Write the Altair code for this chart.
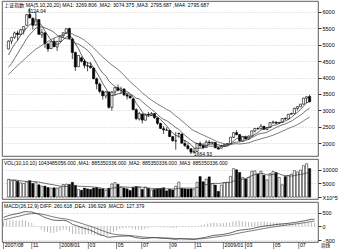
import altair as alt
import pandas as pd

# ---------------- data (weekly) ----------------
warm_close = [3323, 3445, 3585, 3742, 3950, 4030, 4181, 4000, 4149, 4252,
              4091, 3820, 3781, 3915, 4058, 4345, 4560, 4750, 4656]

opens = [4870, 5110, 5225, 5355, 5310, 5450, 5590, 5920, 5800, 5600,
         5760, 5300, 5360, 5020, 4880, 5100, 4930, 5100, 5270, 5360,
         5490, 5170, 4760, 4330, 4600, 4500, 4360, 4350, 4290, 3960,
         3800, 3580, 3440, 3560, 3090, 3560, 3690, 3610, 3650, 3470,
         3430, 3350, 3020, 2740, 2890, 2700, 2880, 2860, 2900, 2770,
         2600, 2440, 2400, 2390, 2200, 2070, 2290, 2280, 1990, 1920,
         1830, 1720, 1750, 1990, 1930, 1870, 2030, 2010, 2020, 1860,
         1850, 1900, 1950, 1990, 2180, 2320, 2260, 2070, 2190, 2130,
         2220, 2370, 2450, 2440, 2510, 2420, 2480, 2620, 2640, 2610,
         2630, 2750, 2740, 2880, 2900, 3060, 3110, 3190, 3370, 3420]
highs = [5130, 5240, 5400, 5430, 5470, 5560, 5930, 6124.04, 5830, 6005,
         5780, 5470, 5380, 5060, 5100, 5200, 5110, 5280, 5380, 5500,
         5520, 5200, 4790, 4680, 4640, 4560, 4470, 4470, 4300, 4000,
         3850, 3610, 3580, 3570, 3590, 3700, 3790, 3720, 3670, 3530,
         3470, 3370, 3060, 2950, 2900, 2900, 2950, 2950, 2920, 2780,
         2620, 2520, 2480, 2400, 2210, 2340, 2330, 2290, 2100, 2000,
         1840, 1850, 2000, 2050, 2000, 2090, 2100, 2040, 2030, 1880,
         1950, 1960, 2000, 2190, 2330, 2400, 2270, 2200, 2230, 2230,
         2380, 2450, 2480, 2580, 2530, 2480, 2630, 2690, 2660, 2650,
         2760, 2790, 2890, 2930, 3080, 3120, 3190, 3380, 3420, 3478]
lows = [4860, 5020, 5180, 5120, 5290, 5310, 5580, 5800, 5460, 5580,
        5300, 5200, 4900, 4780, 4870, 4920, 4810, 5080, 5200, 5330,
        5170, 4560, 4200, 4320, 4460, 4280, 4190, 4270, 3950, 3640,
        3520, 3330, 3360, 3050, 2990, 3450, 3580, 3500, 3440, 3330,
        3360, 3000, 2700, 2690, 2600, 2690, 2800, 2830, 2740, 2560,
        2430, 2280, 2380, 2190, 2040, 1802, 2170, 1990, 1880, 1800,
        1664.93, 1680, 1730, 1870, 1820, 1860, 1960, 1970, 1850, 1814,
        1840, 1880, 1930, 1980, 2160, 2240, 2040, 2040, 2110, 2100,
        2210, 2330, 2400, 2430, 2400, 2390, 2470, 2590, 2590, 2590,
        2620, 2700, 2730, 2860, 2900, 3000, 3110, 3180, 3220, 3250]
closes = [5107, 5218, 5356, 5313, 5454, 5552, 5913, 5818, 5589, 5777,
          5316, 5368, 5032, 4871, 5091, 4941, 5101, 5262, 5361, 5485,
          5181, 4762, 4320, 4672, 4497, 4370, 4348, 4300, 3962, 3804,
          3580, 3446, 3564, 3094, 3557, 3693, 3613, 3654, 3473, 3433,
          3379, 3024, 2748, 2901, 2704, 2880, 2861, 2904, 2775, 2605,
          2450, 2406, 2397, 2202, 2079, 2075, 2293, 2000, 1930, 1838,
          1728, 1747, 1994, 1930, 1871, 2035, 2011, 2031, 1862, 1820,
          1904, 1954, 1990, 2182, 2320, 2261, 2082, 2194, 2128, 2218,
          2374, 2448, 2445, 2519, 2428, 2477, 2625, 2645, 2610, 2632,
          2749, 2743, 2880, 2904, 3060, 3113, 3189, 3372, 3412, 3260]
volumes = [6500, 6000, 6200, 5800, 5200, 5000, 5600, 6000, 5000, 5300,
           4500, 4000, 4000, 3500, 3300, 3400, 3300, 3600, 4600, 4700,
           4600, 5400, 4300, 2800, 2500, 3300, 3000, 2800, 3300, 3500,
           3000, 3000, 2400, 3200, 4800, 5300, 4700, 3700, 3300, 3000,
           2400, 3500, 3800, 3500, 2800, 3700, 3200, 2600, 2800, 3000,
           3100, 3400, 2300, 2900, 2600, 4000, 5500, 3200, 3000, 2900,
           3000, 2700, 5400, 7500, 5600, 6600, 7400, 5000, 4400, 2100,
           4400, 5200, 5400, 7600, 10400, 10000, 9000, 7200, 6600, 7200,
           9500, 9600, 8400, 9500, 8000, 6300, 8600, 9400, 9000, 7200,
           4500, 7500, 7900, 8400, 9700, 9200, 9900, 11500, 12200, 10435]

tick_idx = [0, 9, 18, 27, 36, 44, 53, 61, 70, 77, 86, 94]
tick_lab = ["2007/08", "11", "2008/01", "03", "05", "07", "09", "11",
            "2009/01", "03", "05", "07"]
main_ticks = [2000, 2500, 3000, 3500, 4000, 4500, 5000, 5500, 6000]
vol_ticks = [0, 5000, 10000]
macd_ticks = [-500, 0, 500]

main_title = "上证指数 MA(5,10,20,20) MA1: 3269.806 ,MA2: 3074.375 ,MA3: 2795.687 ,MA4: 2795.687"
vol_title = "VOL(10,10,10) 1043485056.000 ,MA1: 885350336.000 ,MA2: 885350336.000 ,MA3: 885350336.000"
macd_title = "MACD(26,12,9) DIFF: 260.618 ,DEA: 196.929 ,MACD: 127.379"

# ---------------- tables ----------------
n = len(closes)
df = pd.DataFrame({"idx": list(range(n)), "open": opens, "high": highs,
                   "low": lows, "close": closes, "vol": volumes})
df["zero"] = 0

all_close = pd.Series(warm_close + closes, dtype=float)
ema12 = all_close.ewm(span=12, adjust=False).mean()
ema26 = all_close.ewm(span=26, adjust=False).mean()
diff = ema12 - ema26
dea = diff.ewm(span=9, adjust=False).mean()
hist = 2 * (diff - dea)
k = len(warm_close)
df["diff"] = diff.values[k:]
df["dea"] = dea.values[k:]
df["hist"] = hist.values[k:]

cdf = pd.DataFrame({"idx": list(range(-k, n)), "close": warm_close + closes})
tdf = pd.DataFrame({"idx": tick_idx, "lab": tick_lab})

FONT = "Liberation Sans, Noto Sans CJK SC"
W = 316
H_MAIN, H_VOL, H_MACD = 155, 40, 40
xs = alt.Scale(domain=[-0.48, 100.12], nice=False, zero=False)
ys_main = alt.Scale(domain=[1610, 6330], nice=False, zero=False)
ys_vol = alt.Scale(domain=[-700, 13930], nice=False, zero=False)
ys_macd = alt.Scale(domain=[-571, 893], nice=False, zero=False)
X = alt.X("idx:Q", scale=xs, axis=None)
up = "datum.close >= datum.open"


def right_axis(values, **kw):
    return alt.Axis(orient="right", values=values,
                    grid=True, gridDash=[1, 2],
                    gridColor="#999", gridWidth=0.5, labelFontSize=5.5,
                    tickSize=3, labelPadding=1, domain=False, title=None,
                    format="d", labelFont=FONT, labelOverlap=False,
                    labelBound=False, labelFlush=False, **kw)


AX_MAIN = right_axis(main_ticks)
AX_VOL = right_axis(vol_ticks, labelExpr="datum.value == 0 ? 'X10^5' : datum.label")
AX_MACD = right_axis(macd_ticks)


def YM(f):
    return alt.Y(f, scale=ys_main, axis=AX_MAIN)


def YV(f):
    return alt.Y(f, scale=ys_vol, axis=AX_VOL)


def YD(f):
    return alt.Y(f, scale=ys_macd, axis=AX_MACD)


# ---------------- main panel ----------------
wick = alt.Chart(df).mark_rule(strokeWidth=0.7, color="black", clip=True).encode(
    x=X, y=YM("low:Q"), y2="high:Q")
body = alt.Chart(df).mark_bar(size=2.2, stroke="black", strokeWidth=0.6, clip=True).encode(
    x=X, y=YM("open:Q"), y2="close:Q",
    fill=alt.condition(up, alt.value("white"), alt.value("black")))
mas = (alt.Chart(cdf)
       .transform_window(ma1="mean(close)", frame=[-4, 0], sort=[alt.SortField("idx")])
       .transform_window(ma2="mean(close)", frame=[-9, 0], sort=[alt.SortField("idx")])
       .transform_window(ma3="mean(close)", frame=[-19, 0], sort=[alt.SortField("idx")])
       .transform_filter("datum.idx >= 0")
       .transform_fold(["ma1", "ma2", "ma3"], as_=["k", "v"])
       .mark_line(strokeWidth=0.7, clip=True)
       .encode(x=X, y=YM("v:Q"),
               detail="k:N",
               color=alt.Color("k:N", legend=None,
                               scale=alt.Scale(domain=["ma1", "ma2", "ma3"],
                                               range=["#222", "#333", "#444"]))))
peak = alt.Chart(pd.DataFrame({"idx": [7], "v": [6124.04], "t": ["6124.04"]})).mark_text(
    align="left", baseline="middle", dx=-2, dy=3, fontSize=5, font=FONT, color="black"
).encode(x=X, y=YM("v:Q"), text="t:N")
low = alt.Chart(pd.DataFrame({"idx": [60], "v": [1664.93], "t": ["1664.93"]})).mark_text(
    align="left", baseline="middle", dx=3, dy=-0.5, fontSize=5, font=FONT, color="black"
).encode(x=X, y=YM("v:Q"), text="t:N")
t_main = alt.Chart(pd.DataFrame({"t": [main_title]})).mark_text(
    align="left", baseline="top", fontSize=5.1, font=FONT, color="black"
).encode(x=alt.value(2), y=alt.value(2), text="t:N")

main = alt.layer(wick, body, mas, peak, low, t_main).properties(width=W, height=H_MAIN)

# ---------------- volume panel ----------------
vbars = alt.Chart(df).mark_bar(size=2.2, stroke="black", strokeWidth=0.5, clip=True).encode(
    x=X, y=YV("vol:Q"), y2="zero:Q",
    fill=alt.condition(up, alt.value("white"), alt.value("black")))
vma = (alt.Chart(df)
       .transform_window(vma="mean(vol)", frame=[-9, 0], sort=[alt.SortField("idx")])
       .mark_line(strokeWidth=0.7, color="#333", clip=True)
       .encode(x=X, y=YV("vma:Q")))
t_vol = alt.Chart(pd.DataFrame({"t": [vol_title]})).mark_text(
    align="left", baseline="top", fontSize=5, font=FONT, color="black"
).encode(x=alt.value(2), y=alt.value(2), text="t:N")
volp = alt.layer(vbars, vma, t_vol).properties(width=W, height=H_VOL)

# ---------------- MACD panel ----------------
mh = alt.Chart(df).mark_rule(strokeWidth=0.6, color="#888", clip=True).encode(
    x=X, y=YD("hist:Q"), y2="zero:Q")
mlines = (alt.Chart(df).transform_fold(["diff", "dea"], as_=["k", "v"])
          .mark_line(strokeWidth=0.7, clip=True)
          .encode(x=X, y=YD("v:Q"), detail="k:N",
                  color=alt.Color("k:N", legend=None,
                                  scale=alt.Scale(domain=["diff", "dea"],
                                                  range=["#222", "#444"]))))
t_macd = alt.Chart(pd.DataFrame({"t": [macd_title]})).mark_text(
    align="left", baseline="top", fontSize=5, font=FONT, color="black"
).encode(x=alt.value(2), y=alt.value(2), text="t:N")
# date row under the MACD panel
xsep = alt.Chart(tdf).mark_rule(strokeWidth=0.6, color="#333").encode(
    x=X, y=alt.value(H_MACD), y2=alt.value(H_MACD + 7))
xlab = alt.Chart(tdf).mark_text(
    align="left", baseline="top", dx=1.2, fontSize=5.2, font=FONT, color="black"
).encode(x=X, y=alt.value(H_MACD + 1), text="lab:N")
t_wk = alt.Chart(pd.DataFrame({"t": ["周线"]})).mark_text(
    align="left", baseline="top", fontSize=4.6, font=FONT, color="black"
).encode(x=alt.value(W + 3), y=alt.value(H_MACD + 1), text="t:N")
macdp = alt.layer(mh, mlines, t_macd, xsep, xlab, t_wk).properties(width=W, height=H_MACD)

chart = (alt.vconcat(main, volp, macdp, spacing=0)
         .resolve_scale(x="independent", y="independent", color="independent")
         .properties(padding={"left": 1, "top": 0, "right": 0, "bottom": 0},
                     background="white")
         .configure_view(stroke="#333", strokeWidth=0.8)
         .configure_axis(labelColor="black", tickColor="#333", labelOverlap=False))

chart.save("out.html", embed_options={"renderer": "svg", "actions": False})
